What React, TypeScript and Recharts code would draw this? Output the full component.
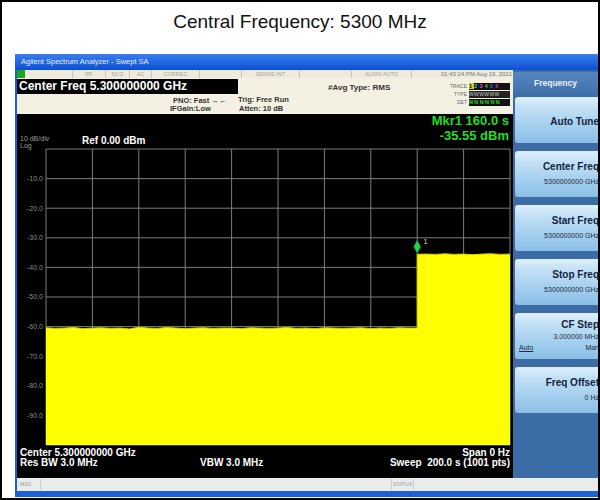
import React from "react";
import { AreaChart, Area, XAxis, YAxis, CartesianGrid, ReferenceDot } from "recharts";

// sweep time (s) and measured level (dBm), zero span at 5300 MHz
const sweepTimes = [
  0, 4, 8, 12, 16, 20, 24, 28, 32, 36, 40, 44, 48, 52, 56, 60, 64, 68, 72, 76,
  80, 84, 88, 92, 96, 100, 104, 108, 112, 116, 120, 124, 128, 132, 136, 140, 144, 148, 152, 156,
  160, 160, 164, 168, 172, 176, 180, 184, 188, 192, 196, 200,
];
const traceLevels = [
  -60.4, -60.6, -60.5, -60.3, -60.7, -60.5, -60.4, -60.6, -60.5, -60.8,
  -60.2, -60.5, -60.6, -60.3, -60.5, -60.7, -60.5, -60.4, -60.6, -60.5,
  -60.5, -60.7, -60.4, -60.5, -60.6, -60.5, -60.3, -60.6, -60.5, -60.7,
  -60.4, -60.5, -60.6, -60.5, -60.4, -60.7, -60.5, -60.6, -60.4, -60.5,
  -60.5, -35.55, -35.5, -35.6, -35.4, -35.6, -35.5, -35.7, -35.5, -35.4, -35.6, -35.5,
];
const timeTicks = [0, 20, 40, 60, 80, 100, 120, 140, 160, 180, 200];
const levelTicks = [0, -10, -20, -30, -40, -50, -60, -70, -80, -90, -100];
const markerTime = 160;
const markerLevel = -35.55;

const softkeyLabels = ["Auto Tune", "Center Freq", "Start Freq", "Stop Freq", "CF Step", "Freq Offset"];
const softkeyValues = ["", "5300000000 GHz", "5300000000 GHz", "5300000000 GHz", "3.000000 MHz", "0 Hz"];

const statusCells = [
  { x: 25, w: 48, label: "" },
  { x: 73, w: 33, label: "RF" },
  { x: 106, w: 24, label: "50 Ω" },
  { x: 130, w: 22, label: "AC" },
  { x: 152, w: 48, label: "CORREC" },
  { x: 200, w: 42, label: "" },
  { x: 242, w: 58, label: "SENSE:INT" },
  { x: 300, w: 52, label: "" },
  { x: 352, w: 60, label: "ALIGN AUTO" },
];

const FONT = "'Liberation Sans', Arial, sans-serif";

const at = (left: number, top: number, more: React.CSSProperties = {}): React.CSSProperties => ({
  position: "absolute",
  left,
  top,
  whiteSpace: "nowrap",
  ...more,
});

const MarkerDiamond = (props: any) => {
  const { cx, cy } = props;
  return (
    <g>
      <polygon
        points={`${cx},${cy - 14} ${cx + 3.5},${cy - 7.5} ${cx},${cy - 1} ${cx - 3.5},${cy - 7.5}`}
        fill="#1ed64a"
        stroke="#0b8a2c"
        strokeWidth={0.5}
      />
      <text x={cx + 6} y={cy - 10} fill="#d9cf7a" fontSize={8} fontFamily={FONT}>
        1
      </text>
    </g>
  );
};

export default function App() {
  const data = sweepTimes.map((t, i) => ({ t, level: traceLevels[i] }));
  const small = { fontSize: 7.5, fontWeight: 700, color: "#333", lineHeight: "9px" };
  const mkr = { width: 129, textAlign: "right" as const, fontSize: 13, fontWeight: 700, color: "#22dd22", lineHeight: "13px" };

  return (
    <div style={{ position: "absolute", left: 0, top: 0, width: 600, height: 500, background: "#fff", fontFamily: FONT, overflow: "hidden" }}>
      <div style={at(0, 10, { width: 600, textAlign: "center", fontSize: 19, lineHeight: "24px", color: "#111" })}>
        Central Frequency: 5300 MHz
      </div>

      {/* analyzer window */}
      <div style={at(15, 54, { width: 585, height: 443, background: "#1d5fd6" })} />
      <div style={at(15, 54, { width: 585, height: 16, background: "linear-gradient(#3a7ef0, #0c50d0)" })} />
      <div style={at(21, 56, { fontSize: 7.5, color: "#e4ecff", lineHeight: "12px" })}>Agilent Spectrum Analyzer - Swept SA</div>

      {/* status row */}
      <div style={at(17, 70, { width: 496, height: 8, background: "#eeeadc" })} />
      <div style={at(17, 70, { width: 8, height: 8, background: "#18a818" })} />
      {statusCells.map((c) => (
        <div
          key={c.x}
          style={at(c.x, 70, { width: c.w, height: 8, borderRight: "1px solid #c8c4b4", boxSizing: "border-box", textAlign: "center", fontSize: 5.5, lineHeight: "8px", color: "#a8a498" })}
        >
          {c.label}
        </div>
      ))}
      <div style={at(412, 70, { width: 100, textAlign: "right", fontSize: 6, lineHeight: "8px", color: "#777" })}>01:43:24 PM Aug 19, 2021</div>

      {/* header */}
      <div style={at(17, 78, { width: 496, height: 36, background: "#f5f1e2" })} />
      <div style={at(17, 79, { width: 221, height: 15, background: "#000" })} />
      <div style={at(19, 80, { fontSize: 12, fontWeight: 700, color: "#fff", lineHeight: "13px" })}>Center Freq 5.300000000 GHz</div>
      <div style={at(173, 96, small)}>PNO: Fast →←</div>
      <div style={at(170, 104, small)}>IFGain:Low</div>
      <div style={at(238, 95, small)}>Trig: Free Run</div>
      <div style={at(239, 104, small)}>Atten: 10 dB</div>
      <div style={at(328, 83, { ...small, fontSize: 8 })}>#Avg Type: RMS</div>
      {["TRACE", "TYPE", "DET"].map((l, i) => (
        <div key={l} style={at(430, 83 + i * 8, { width: 37, textAlign: "right", fontSize: 5, lineHeight: "7px", color: "#666" })}>
          {l}
        </div>
      ))}
      <div style={at(469, 83, { width: 41, height: 7, background: "#111", fontSize: 5.5, lineHeight: "7px", fontWeight: 700, letterSpacing: 2.2 })}>
        <span style={{ background: "#d8d000", color: "#000" }}>1</span>
        <span style={{ color: "#2ad0e0" }}>2</span>
        <span style={{ color: "#e040e0" }}>3</span>
        <span style={{ color: "#30d030" }}>4</span>
        <span style={{ color: "#5060ff" }}>5</span>
        <span style={{ color: "#a040c0" }}>6</span>
      </div>
      <div style={at(469, 91, { width: 41, height: 7, background: "#222", fontSize: 5, lineHeight: "7px", color: "#ccc", letterSpacing: 0.4 })}>WWWWWW</div>
      <div style={at(469, 99, { width: 41, height: 7, background: "#111", fontSize: 5.5, lineHeight: "7px", color: "#30d030", fontWeight: 700, letterSpacing: 1.4 })}>NNNNNN</div>

      {/* display */}
      <div style={at(17, 114, { width: 496, height: 364, background: "#000" })} />
      <div style={at(17, 114)}>
        <AreaChart width={496} height={364} data={data} margin={{ top: 35, right: 3, bottom: 33, left: 0 }}>
          <CartesianGrid stroke="#7c7c7c" strokeWidth={1} />
          <XAxis dataKey="t" type="number" domain={[0, 200]} ticks={timeTicks} hide />
          <YAxis
            type="number"
            domain={[-100, 0]}
            ticks={levelTicks}
            width={29}
            axisLine={false}
            tickLine={false}
            tickSize={0}
            tickMargin={3}
            tick={{ fill: "#8c8c8c", fontSize: 7, fontFamily: FONT }}
            tickFormatter={(v: number) => (v === 0 || v === -100 ? "" : v.toFixed(1))}
          />
          <Area
            type="linear"
            dataKey="level"
            baseValue="dataMin"
            stroke="#d4d400"
            strokeWidth={1}
            fill="#ffff00"
            fillOpacity={1}
            dot={false}
            activeDot={false}
            isAnimationActive={false}
          />
          <ReferenceDot x={markerTime} y={markerLevel} shape={MarkerDiamond} />
        </AreaChart>
      </div>
      <div style={at(20, 135, { fontSize: 7, color: "#9a9a9a", lineHeight: "7px" })}>10 dB/div</div>
      <div style={at(20, 142, { fontSize: 7, color: "#9a9a9a", lineHeight: "7px" })}>Log</div>
      <div style={at(82, 135, { fontSize: 10, fontWeight: 700, color: "#fff", lineHeight: "11px" })}>Ref 0.00 dBm</div>
      <div style={at(380, 114, mkr)}>Mkr1 160.0 s</div>
      <div style={at(380, 129, mkr)}>-35.55 dBm</div>
      <div style={at(20, 448, { fontSize: 10, fontWeight: 700, color: "#fff", lineHeight: "10px" })}>Center 5.300000000 GHz</div>
      <div style={at(380, 448, { width: 130, textAlign: "right", fontSize: 10, fontWeight: 700, color: "#fff", lineHeight: "10px" })}>Span 0 Hz</div>
      <div style={at(20, 458, { fontSize: 10, fontWeight: 700, color: "#fff", lineHeight: "10px" })}>Res BW 3.0 MHz</div>
      <div style={at(200, 458, { fontSize: 10, fontWeight: 700, color: "#fff", lineHeight: "10px" })}>VBW 3.0 MHz</div>
      <div style={at(360, 458, { width: 150, textAlign: "right", fontSize: 10, fontWeight: 700, color: "#fff", lineHeight: "10px" })}>
        Sweep&nbsp; 200.0 s (1001 pts)
      </div>

      {/* message bar */}
      <div style={at(17, 478, { width: 583, height: 13, background: "#ebebeb" })} />
      <div style={at(20, 478, { fontSize: 5, color: "#999", lineHeight: "13px" })}>MSG</div>
      <div style={at(40, 479, { width: 350, height: 11, borderLeft: "1px solid #ccc", borderRight: "1px solid #ccc" })} />
      <div style={at(393, 478, { fontSize: 5, color: "#999", lineHeight: "13px" })}>STATUS</div>
      <div style={at(413, 479, { width: 1, height: 11, background: "#ccc" })} />

      {/* softkey panel */}
      <div style={at(513, 70, { width: 87, height: 408, background: "#3b6ca6" })} />
      <div style={at(513, 72, { width: 87, height: 23, background: "linear-gradient(#5686bf, #3f70aa)" })} />
      <div style={at(513, 72, { width: 85, textAlign: "center", fontSize: 8.5, fontWeight: 700, color: "#e6eefa", lineHeight: "23px" })}>Frequency</div>
      {softkeyLabels.map((label, i) => {
        const top = 97 + i * 54;
        const value = softkeyValues[i];
        const isStep = label === "CF Step";
        const labelTop = value ? (isStep ? 6 : 10) : 19;
        return (
          <div
            key={label}
            style={at(515, top, {
              width: 85,
              height: 46,
              overflow: "hidden",
              borderRadius: "3px 0 0 3px",
              background: "linear-gradient(#e0f0fb 0%, #c4e1f5 22%, #a6d0ef 60%, #8bbfe6 100%)",
            })}
          >
            <div style={{ position: "absolute", right: 1, top: labelTop, fontSize: 10, fontWeight: 700, color: "#13233f", lineHeight: "11px", whiteSpace: "nowrap" }}>
              {label}
            </div>
            {value && (
              <div style={{ position: "absolute", right: 1, top: isStep ? 19 : 26, fontSize: 7, color: "#1b2b44", lineHeight: "9px", whiteSpace: "nowrap" }}>
                {value}
              </div>
            )}
            {isStep && (
              <>
                <div style={{ position: "absolute", left: 4, top: 30, fontSize: 7, color: "#1b2b44", lineHeight: "9px", textDecoration: "underline" }}>Auto</div>
                <div style={{ position: "absolute", right: 1, top: 30, fontSize: 7, color: "#1b2b44", lineHeight: "9px" }}>Man</div>
              </>
            )}
          </div>
        );
      })}

      {/* outer frame */}
      <div style={at(0, 0, { width: 600, height: 500, border: "2px solid #000", boxSizing: "border-box", pointerEvents: "none" })} />
    </div>
  );
}
